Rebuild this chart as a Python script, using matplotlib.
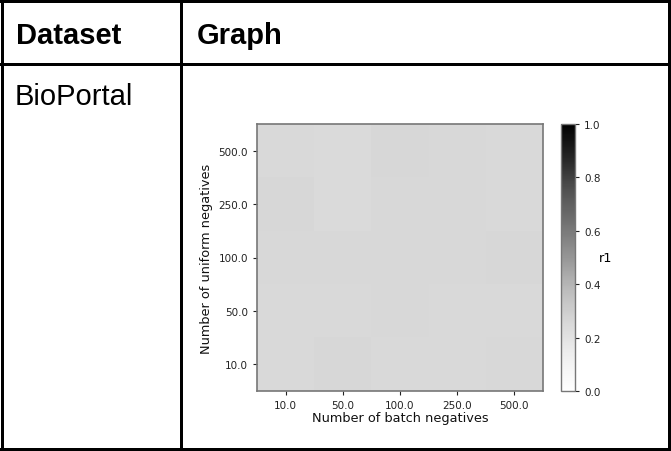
import numpy as np
import matplotlib
matplotlib.use("Agg")
import matplotlib.pyplot as plt
from matplotlib.lines import Line2D

# table text
header_labels = ["Dataset", "Graph"]
dataset_name = "BioPortal"

# heatmap data (rows top -> bottom, cols left -> right)
batch_negatives = ["10.0", "50.0", "100.0", "250.0", "500.0"]
uniform_negatives = ["500.0", "250.0", "100.0", "50.0", "10.0"]
r1_values = [
    [0.248, 0.245, 0.256, 0.250, 0.248],
    [0.254, 0.244, 0.251, 0.251, 0.248],
    [0.250, 0.250, 0.251, 0.251, 0.258],
    [0.247, 0.248, 0.252, 0.249, 0.248],
    [0.247, 0.254, 0.249, 0.249, 0.250],
]
cbar_ticks = [0.0, 0.2, 0.4, 0.6, 0.8, 1.0]

W, H = 671, 452
fig = plt.figure(figsize=(W / 100, H / 100), dpi=100)
fig.patch.set_facecolor("white")


def px(x, y):
    # pixel coords (from top-left) -> figure fraction
    return x / W, 1 - y / H


def hline(y, x0, x1, lw=3):
    fig.add_artist(Line2D([x0 / W, x1 / W], [1 - y / H, 1 - y / H], color="black", lw=lw * 0.72))


def vline(x, y0, y1, lw=3):
    fig.add_artist(Line2D([x / W, x / W], [1 - y0 / H, 1 - y1 / H], color="black", lw=lw * 0.72))


# table grid
hline(1.5, 0, W)
hline(65, 0, W)
hline(450, 0, W)
vline(1.5, 0, H)
vline(181, 0, H)
vline(669, 0, H)

fig.text(*px(16, 36), header_labels[0], fontsize=21, fontweight="bold",
         family="Liberation Sans", va="center", ha="left")
fig.text(*px(197, 36), header_labels[1], fontsize=21, fontweight="bold",
         family="Liberation Sans", va="center", ha="left")
fig.text(*px(15, 97), dataset_name, fontsize=21,
         family="Liberation Sans", va="center", ha="left")

# heatmap
ax = fig.add_axes([257 / W, 1 - 392 / H, 286 / W, 267 / H])
data = np.array(r1_values)
im = ax.imshow(data, cmap="Greys", vmin=0, vmax=1, aspect="auto")
ax.set_xticks(range(len(batch_negatives)))
ax.set_xticklabels(batch_negatives)
ax.set_yticks(range(len(uniform_negatives)))
ax.set_yticklabels(uniform_negatives)
ax.tick_params(labelsize=7.5, length=3, colors="#222222")
ax.set_xlabel("Number of batch negatives", fontsize=9.3, labelpad=1, color="#111111")
ax.set_ylabel("Number of uniform negatives", fontsize=9.3, labelpad=4, color="#111111")
for sp in ax.spines.values():
    sp.set_color("#777777")
    sp.set_linewidth(1.2)

cax = fig.add_axes([561 / W, 1 - 392 / H, 14 / W, 267 / H])
cb = fig.colorbar(im, cax=cax, ticks=cbar_ticks)
cb.ax.tick_params(labelsize=7.5, length=3, colors="#222222")
cb.outline.set_edgecolor("#777777")
cb.outline.set_linewidth(1.0)
cb.ax.set_yticklabels([f"{t:.1f}" for t in cbar_ticks])
cb.set_label("r1", rotation=0, fontsize=9.3, labelpad=4, va="center")

fig.savefig("out.png", dpi=100)
